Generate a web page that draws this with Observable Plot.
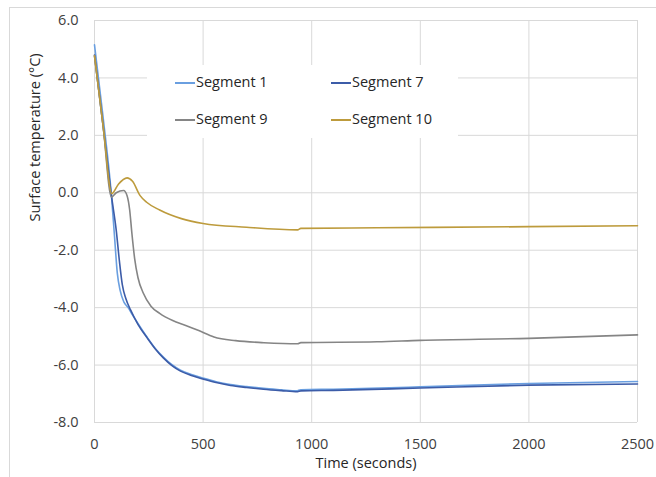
<!DOCTYPE html>
<html>
<head>
<meta charset="utf-8">
<script src="https://cdn.jsdelivr.net/npm/d3@7"></script>
<script src="https://cdn.jsdelivr.net/npm/@observablehq/plot@0.6"></script>
<style>
  html, body { margin: 0; padding: 0; background: #fff; }
  #wrap { position: relative; width: 656px; height: 477px; overflow: hidden; font-family: "Open Sans", sans-serif; }
  #border { position: absolute; left: 9px; top: 7px; width: 700px; height: 500px; border-left: 1px solid #d9d9d9; border-top: 1px solid #d9d9d9; }
  #chart { position: absolute; left: 0; top: 0; }
  #legend { position: absolute; left: 147px; top: 65px; width: 311px; height: 73px; background: #fff; }
  .item { position: absolute; font-size: 14.5px; color: #262626; white-space: nowrap; line-height: 1; }
  .sw { position: absolute; height: 2px; width: 20px; }
</style>
</head>
<body>
<div id="wrap">
  <div id="border"></div>
  <div id="chart"></div>
  <div id="legend"></div>
</div>
<script>
const seriesNames = ["Segment 1", "Segment 7", "Segment 9", "Segment 10"];
const seriesColors = ["#6a9fe0", "#3c5ca8", "#858585", "#bd9b3c"];

const segment1 = [[0,5.15],[40,2.6],[78,-0.1],[92,-1.5],[105,-2.8],[118,-3.4],[135,-3.8],[155,-4.0],[175,-4.25],[200,-4.55],[244,-5.05],[280,-5.42],[318,-5.73],[355,-5.98],[396,-6.18],[450,-6.34],[502,-6.46],[560,-6.58],[626,-6.68],[700,-6.75],[778,-6.81],[860,-6.86],[930,-6.9],[950,-6.86],[1100,-6.84],[1500,-6.76],[2000,-6.64],[2500,-6.57]];
const segment7 = [[0,4.8],[40,2.3],[78,-0.1],[100,-1.3],[115,-2.4],[128,-3.2],[145,-3.7],[166,-4.08],[200,-4.58],[244,-5.07],[280,-5.44],[318,-5.76],[355,-6.01],[396,-6.21],[450,-6.37],[502,-6.49],[560,-6.61],[626,-6.71],[700,-6.78],[778,-6.84],[860,-6.89],[935,-6.93],[950,-6.9],[1100,-6.88],[1500,-6.8],[2000,-6.7],[2500,-6.66]];
const segment9 = [[0,4.77],[40,2.3],[78,-0.15],[100,0.0],[134,0.08],[150,-0.1],[162,-0.6],[172,-1.4],[185,-2.3],[200,-2.95],[225,-3.5],[260,-3.95],[300,-4.2],[360,-4.45],[420,-4.62],[480,-4.8],[550,-5.02],[650,-5.15],[780,-5.22],[935,-5.26],[950,-5.22],[1300,-5.19],[1500,-5.14],[2000,-5.07],[2500,-4.95]];
const segment10 = [[0,4.77],[40,2.3],[80,-0.03],[110,0.3],[150,0.52],[175,0.4],[210,-0.1],[240,-0.33],[300,-0.6],[400,-0.9],[500,-1.07],[700,-1.2],[935,-1.29],[950,-1.24],[1300,-1.22],[2000,-1.18],[2500,-1.15]];
const seriesValues = [segment1, segment7, segment9, segment10];

const xTicks = [0, 500, 1000, 1500, 2000, 2500];
const yTicks = [-8, -6, -4, -2, 0, 2, 4, 6];
const xTitle = "Time (seconds)";
const yTitle = "Surface temperature (°C)";

const rows = [];
seriesNames.forEach((name, i) => {
  seriesValues[i].forEach(([t, v]) => rows.push({series: name, t, v}));
});

const chart = Plot.plot({
  width: 656,
  height: 477,
  marginLeft: 94,
  marginRight: 19,
  marginTop: 20,
  marginBottom: 55,
  style: {fontFamily: "'Open Sans', sans-serif", fontSize: "14.5px", color: "#404040", background: "transparent"},
  x: {domain: [0, 2500], ticks: xTicks, tickSize: 0, tickPadding: 16, label: null, tickFormat: d => String(d)},
  y: {domain: [-8, 6], ticks: yTicks, tickSize: 0, tickPadding: 16, label: null, tickFormat: d => d.toFixed(1)},
  color: {domain: seriesNames, range: seriesColors},
  marks: [
    Plot.gridX(xTicks, {stroke: "#d9d9d9", strokeOpacity: 1, strokeWidth: 1}),
    Plot.gridY(yTicks, {stroke: "#d9d9d9", strokeOpacity: 1, strokeWidth: 1}),
    Plot.line(rows, {x: "t", y: "v", z: "series", stroke: "series", strokeWidth: 1.6, curve: "monotone-x"}),
    Plot.text([xTitle], {frameAnchor: "bottom", dy: 45, fill: "#262626", fontSize: 14.5}),
    Plot.text([yTitle], {frameAnchor: "left", dx: -59, rotate: -90, fill: "#262626", fontSize: 14.5})
  ]
});
document.getElementById("chart").appendChild(chart);

// legend
const legend = document.getElementById("legend");
const pos = [[28, 18], [184, 18], [28, 55], [184, 55]];
seriesNames.forEach((name, i) => {
  const [lx, ly] = pos[i];
  const sw = document.createElement("div");
  sw.className = "sw";
  sw.style.left = lx + "px";
  sw.style.top = (ly - 1) + "px";
  sw.style.background = seriesColors[i];
  legend.appendChild(sw);
  const tx = document.createElement("div");
  tx.className = "item";
  tx.textContent = name;
  tx.style.left = (lx + 21) + "px";
  tx.style.top = (ly - 8) + "px";
  legend.appendChild(tx);
});
</script>
</body>
</html>
